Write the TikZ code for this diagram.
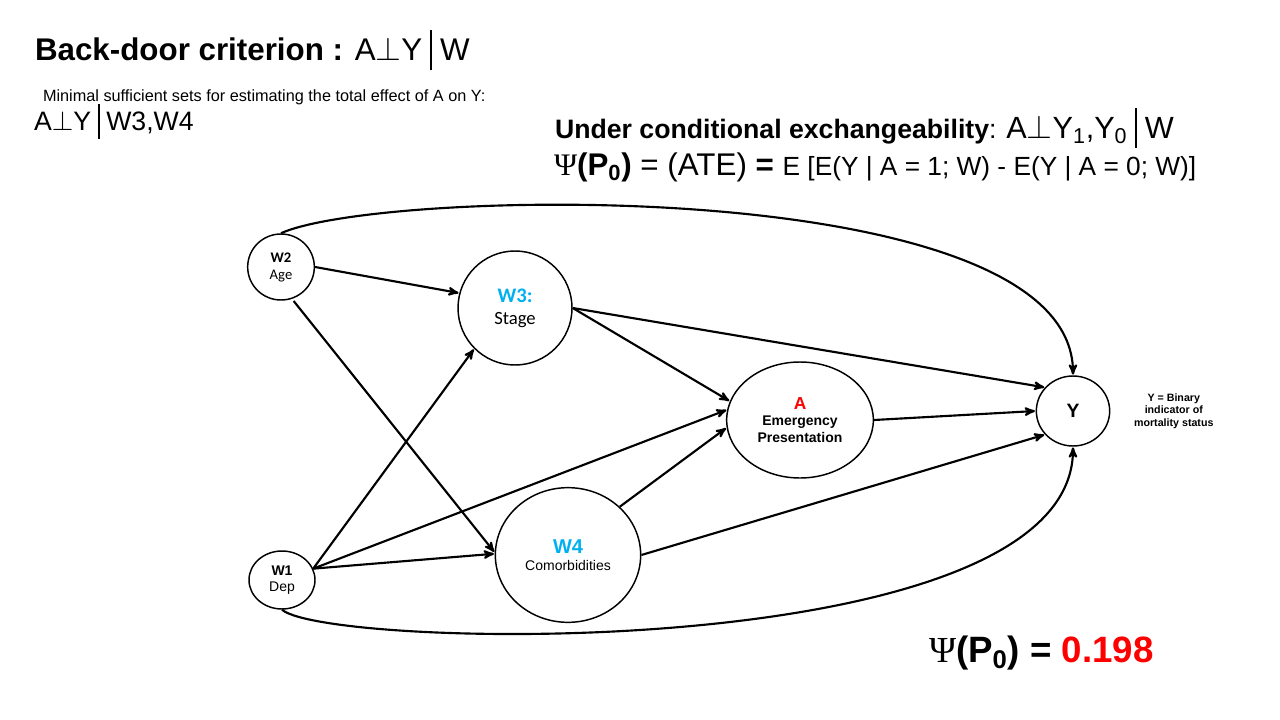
\documentclass[tikz,border=0pt]{standalone}
\usepackage{fontspec}
\setmainfont{Liberation Sans}
\newfontfamily\calibri{Carlito}
\newfontfamily\serifgreek{Liberation Serif}
\usepackage{xcolor}
\usepackage{tikz}
\usetikzlibrary{positioning,arrows,shapes.geometric}
\definecolor{wblue}{RGB}{0,176,240}
\newcommand{\setfs}[2]{\fontsize{#1}{#2}\selectfont}
\newcommand{\condbar}{\hspace{0.25em}\rule[-0.3em]{0.07em}{1.3em}\hspace{0.25em}}
\newcommand{\psisym}{{\serifgreek\mdseries Ψ}}
\tikzset{
  dag/.style={>=stealth',
    shorten >=0.5pt,
    line width=1.5pt},
  var/.style={ellipse,draw,line width=1.1pt,inner sep=0pt,align=center},
  causal/.style={->,line width=1.6pt},
  caption/.style={inner sep=0pt,anchor=base west},
  note/.style={inner sep=0pt,align=center,font=\bfseries\setfs{8}{9.4}}}

\begin{document}
\begin{tikzpicture}[x=0.75pt,y=-0.75pt,dag]
  \useasboundingbox (0,0) rectangle (1280,720);
  % headings
  \node[caption,font=\setfs{23.5}{28}] (crit) at (34,61)
    {\textbf{Back-door criterion :} A$\perp$Y\condbar W};
  \node[caption,font=\setfs{12.2}{14}] (minset) at (42,102)
    {Minimal sufficient sets for estimating the total effect of A on Y:};
  \node[caption,font=\setfs{20}{24}] (sufset) at (33,131) {A$\perp$Y\condbar W3,W4};
  \node[caption,font=\setfs{20}{24}] (exch) at (554,139)
    {\textbf{Under conditional exchangeability}: {\setfs{23}{26}A$\perp$Y\textsubscript{1},Y\textsubscript{0}\condbar W}};
  \node[caption,font=\setfs{23.5}{27}] (psidef) at (553,176)
    {\psisym\textbf{(P\textsubscript{0})} = (ATE) \textbf{=} {\setfs{19.7}{22}E [E(Y | A = 1; W) - E(Y | A = 0; W)]}};
  \node[caption,font=\bfseries\setfs{27.5}{32}] (psival) at (928,662)
    {\psisym(P\textsubscript{0}) = \textcolor{red}{0.198}};
  % variables
  \node[var,minimum width=50pt,minimum height=49.5pt,font=\calibri\setfs{11}{12.8}] (w2) at (281,267)
    {\textbf{W2}\\Age};
  \node[var,minimum width=85.5pt,minimum height=85.5pt,font=\calibri\setfs{14}{16.5}] (w3) at (515,308)
    {\textcolor{wblue}{\setfs{15.5}{16.5}\textbf{W3:}}\\Stage};
  \node[var,minimum width=110pt,minimum height=87pt,font=\bfseries\setfs{10.5}{12.5}] (a) at (800,420)
    {\textcolor{red}{\setfs{13}{14}A}\\Emergency\\Presentation};
  \node[var,minimum width=55pt,minimum height=52.5pt,font=\bfseries\setfs{14.5}{16}] (y) at (1073,411) {Y};
  \node[var,minimum width=49.5pt,minimum height=43.5pt,font=\setfs{10.5}{12}] (w1) at (282,580)
    {\textbf{W1}\\Dep};
  \node[var,minimum width=109pt,minimum height=101pt,font=\setfs{10.5}{13}] (w4) at (568,555)
    {\textcolor{wblue}{\bfseries\setfs{15}{15}W4}\\Comorbidities};
  \node[note,right=17pt of y] (ylab) {Y = Binary\\indicator of\\mortality status};
  % arrows
  \draw[causal] (w2.east) -- (w3.165);
  \draw[causal,shorten <=2pt] (w2.-71) -- (w4.178);
  \draw[causal] (w1.20) -- (w3.225);
  \draw[causal] (w1.20) -- (a.172);
  \draw[causal] (w1.20) -- (w4.179);
  \draw[causal] (w3.east) -- (a.165);
  \draw[causal] (w3.east) -- (y.140);
  \draw[causal] (w4.43) -- (a.186);
  \draw[causal] (w4.east) -- (y.220);
  \draw[causal] (a.east) -- (y.west);
  \draw[causal] (w2.north) .. controls (380,188) and (1072,173) .. (y.north);
  \draw[causal] (w1.south) .. controls (330,650) and (1072,665) .. (y.south);
\end{tikzpicture}
\end{document}
